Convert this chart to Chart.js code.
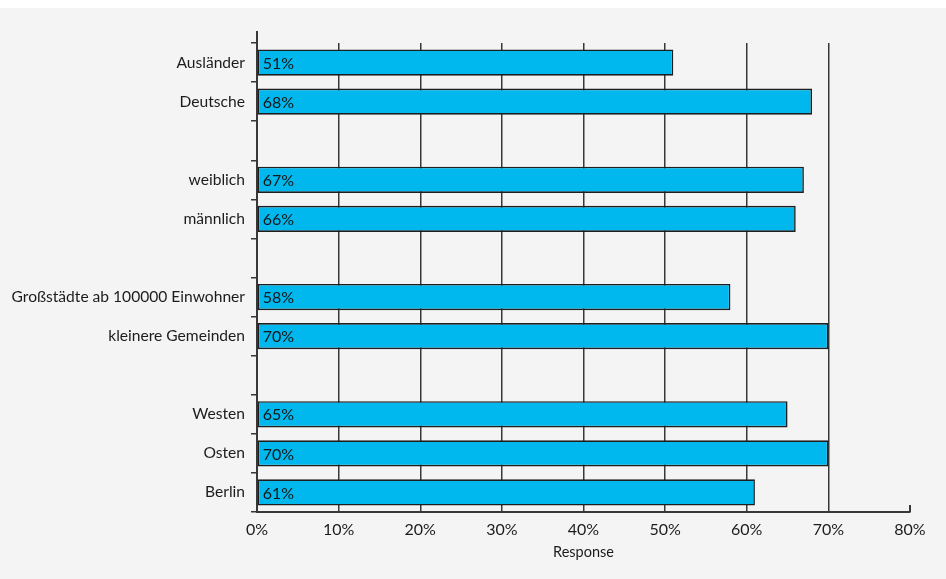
<!DOCTYPE html>
<html>
<head>
<meta charset="utf-8">
<script src="https://cdn.jsdelivr.net/npm/chart.js@4/dist/chart.umd.min.js"></script>
<style>
  html, body { margin: 0; padding: 0; background: #ffffff; }
  #wrap { position: absolute; left: 0; top: 8px; width: 946px; height: 571px; background: #f4f4f4; }
  canvas { display: block; }
</style>
</head>
<body>
<div id="wrap"><canvas id="chart" width="946" height="571"></canvas></div>
<script>
// Groups separated by empty rows
const categories = [
  'Ausländer', 'Deutsche', '',
  'weiblich', 'männlich', '',
  'Großstädte ab 100000 Einwohner', 'kleinere Gemeinden', '',
  'Westen', 'Osten', 'Berlin'
];
const responseValues = [51, 68, null, 67, 66, null, 58, 70, null, 65, 70, 61];
const xTickValues = [0, 10, 20, 30, 40, 50, 60, 70, 80];
const axisTitle = 'Response';

const FONT = "Lato, 'Open Sans', sans-serif";
const INK = '#1c1c1c';
const LINE = '#383838';

// Percentage labels inside each bar, plus the small axis extras
const barLabels = {
  id: 'barLabels',
  afterDatasetsDraw(chart) {
    const ctx = chart.ctx;
    const meta = chart.getDatasetMeta(0);
    ctx.save();
    ctx.font = '16px ' + FONT;
    ctx.fillStyle = '#161616';
    ctx.textAlign = 'left';
    ctx.textBaseline = 'middle';
    meta.data.forEach((bar, i) => {
      const v = responseValues[i];
      if (v === null || v === undefined) return;
      ctx.fillText(v + '%', bar.base + 5, bar.y + 1);
    });
    ctx.restore();
  },
  afterDraw(chart) {
    const ctx = chart.ctx;
    const area = chart.chartArea;
    const xs = chart.scales.x;
    ctx.save();
    ctx.strokeStyle = LINE;
    ctx.lineWidth = 2;
    // y axis continues a little above the plot
    ctx.beginPath();
    ctx.moveTo(area.left, area.top - 12);
    ctx.lineTo(area.left, area.top);
    ctx.stroke();
    // inward tick at the last x value
    const px = xs.getPixelForValue(xTickValues[xTickValues.length - 1]);
    ctx.beginPath();
    ctx.moveTo(px, area.bottom);
    ctx.lineTo(px, area.bottom - 7);
    ctx.stroke();
    ctx.restore();
  }
};

new Chart(document.getElementById('chart'), {
  type: 'bar',
  data: {
    labels: categories,
    datasets: [{
      data: responseValues,
      backgroundColor: '#00b8ee',
      borderColor: '#1e1e1e',
      borderWidth: 1.6,
      borderSkipped: false,
      barPercentage: 0.67,
      categoryPercentage: 1.0
    }]
  },
  options: {
    indexAxis: 'y',
    responsive: false,
    animation: false,
    devicePixelRatio: 1,
    layout: { padding: { top: 35, right: 36, bottom: 0, left: 0 } },
    plugins: {
      legend: { display: false },
      tooltip: { enabled: false }
    },
    scales: {
      x: {
        type: 'linear',
        min: 0,
        max: 80,
        afterBuildTicks(scale) {
          scale.ticks = xTickValues.map(v => ({ value: v }));
        },
        afterFit(scale) { scale.height = 67; },
        border: { display: true, color: LINE, width: 2 },
        grid: {
          drawTicks: false,
          lineWidth: 1.5,
          color: ctx => (ctx.tick && ctx.tick.value === 80) ? 'rgba(0,0,0,0)' : LINE
        },
        ticks: {
          padding: 8,
          color: INK,
          font: { family: FONT, size: 16 },
          callback: v => v + '%'
        },
        title: {
          display: true,
          text: axisTitle,
          color: INK,
          font: { family: FONT, size: 14.5 },
          padding: { top: 0, bottom: 18 }
        }
      },
      y: {
        afterFit(scale) { scale.width = 257; },
        border: { display: true, color: LINE, width: 2 },
        grid: {
          offset: true,
          drawOnChartArea: false,
          drawTicks: true,
          tickLength: 6,
          color: LINE,
          lineWidth: 1.5
        },
        ticks: {
          padding: 6,
          color: INK,
          font: { family: FONT, size: 15.6 },
          autoSkip: false
        }
      }
    }
  },
  plugins: [barLabels]
});
</script>
</body>
</html>
